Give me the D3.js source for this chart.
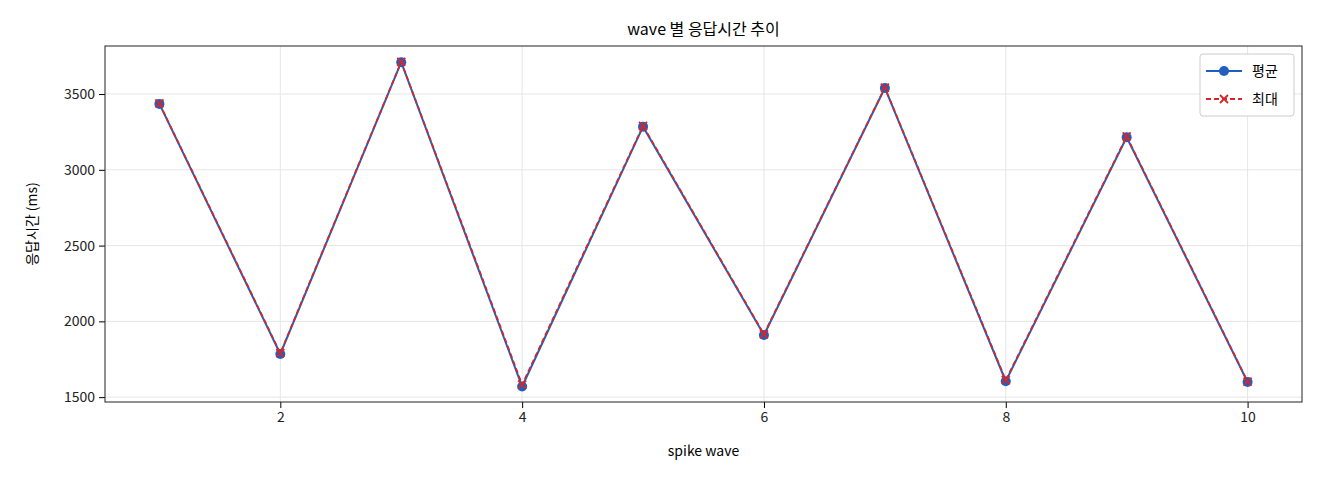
<!DOCTYPE html>
<html><head><meta charset="utf-8">
<script src="https://cdn.jsdelivr.net/npm/d3@7"></script>
<style>body{margin:0;background:#fff}text{font-family:"Noto Sans CJK KR","DejaVu Sans",sans-serif}</style>
</head><body>
<svg id="chart" width="1320" height="480"></svg>
<script>
const waves = [1,2,3,4,5,6,7,8,9,10]
const avgMs = [3435,1785,3710,1570,3285,1910,3540,1605,3215,1600]
const maxMs = [3438,1790,3712,1582,3290,1915,3543,1612,3220,1603]
const xTicks = [2,4,6,8,10]
const yTicks = [1500,2000,2500,3000,3500]

const svg = d3.select('#chart')
const m = {l:105, r:1302, t:46, b:402}

const x = d3.scaleLinear().domain([0.55,10.45]).range([m.l,m.r])
const y = d3.scaleLinear().domain([1468,3817]).range([m.b,m.t])

// grid
svg.append('g').selectAll('line').data(xTicks).enter().append('line')
    .attr('x1',d=>x(d)).attr('x2',d=>x(d)).attr('y1',m.t).attr('y2',m.b)
    .attr('stroke','#e6e6e6')
svg.append('g').selectAll('line').data(yTicks).enter().append('line')
    .attr('x1',m.l).attr('x2',m.r).attr('y1',d=>y(d)).attr('y2',d=>y(d))
    .attr('stroke','#e6e6e6')

svg.append('g').attr('transform','translate(0,'+m.b+')')
    .call(d3.axisBottom(x).tickValues(xTicks).tickFormat(d3.format('d')).tickSizeOuter(0).tickPadding(4))
    .call(g=>g.selectAll('text').style('font-size','14px').attr('fill','#222'))
svg.append('g').attr('transform','translate('+m.l+',0)')
    .call(d3.axisLeft(y).tickValues(yTicks).tickFormat(d3.format('d')).tickSizeOuter(0).tickPadding(4))
    .call(g=>g.selectAll('text').style('font-size','14px').attr('fill','#222'))
svg.selectAll('.domain').remove()
svg.append('rect').attr('x',m.l).attr('y',m.t).attr('width',m.r-m.l).attr('height',m.b-m.t)
    .attr('fill','none').attr('stroke','#222').attr('stroke-width',1)

svg.append('text').attr('x',(m.l+m.r)/2).attr('y',35).attr('text-anchor','middle')
    .attr('font-size',16).text('wave 별 응답시간 추이')
svg.append('text').attr('x',(m.l+m.r)/2).attr('y',456).attr('text-anchor','middle')
    .attr('font-size',14).text('spike wave')
svg.append('text').attr('transform','translate(37,'+(m.t+m.b)/2+') rotate(-90)')
    .attr('text-anchor','middle').attr('font-size',14).text('응답시간 (ms)')

const blue = '#1f5fbf', red = '#d62728'
const line = d3.line().x((d,i)=>x(waves[i])).y(d=>y(d))

svg.append('path').datum(avgMs).attr('d',line).attr('fill','none').attr('stroke',blue).attr('stroke-width',2)
svg.selectAll('.dot').data(avgMs).enter().append('circle')
    .attr('cx',(d,i)=>x(waves[i])).attr('cy',d=>y(d)).attr('r',5).attr('fill',blue)
svg.append('path').datum(maxMs).attr('d',line).attr('fill','none').attr('stroke',red)
    .attr('stroke-width',1.8).attr('stroke-dasharray','5,3')
const cross = (g,cx,cy,s)=>g.append('path')
    .attr('d',`M${cx-s},${cy-s}L${cx+s},${cy+s}M${cx-s},${cy+s}L${cx+s},${cy-s}`)
    .attr('stroke',red).attr('stroke-width',1.8)
maxMs.forEach((d,i)=>cross(svg,x(waves[i]),y(d),4))

// legend
const lg = svg.append('g')
lg.append('rect').attr('x',1200).attr('y',54).attr('width',94).attr('height',62).attr('rx',3)
    .attr('fill','#fff').attr('stroke','#ccc')
lg.append('line').attr('x1',1206).attr('x2',1242).attr('y1',71).attr('y2',71).attr('stroke',blue).attr('stroke-width',2)
lg.append('circle').attr('cx',1224).attr('cy',71).attr('r',5).attr('fill',blue)
lg.append('text').attr('x',1252).attr('y',76).attr('font-size',14).text('평균')
lg.append('line').attr('x1',1206).attr('x2',1242).attr('y1',99).attr('y2',99).attr('stroke',red)
    .attr('stroke-width',1.8).attr('stroke-dasharray','5,3')
cross(lg,1224,99,4)
lg.append('text').attr('x',1252).attr('y',104).attr('font-size',14).text('최대')
</script>
</body></html>
